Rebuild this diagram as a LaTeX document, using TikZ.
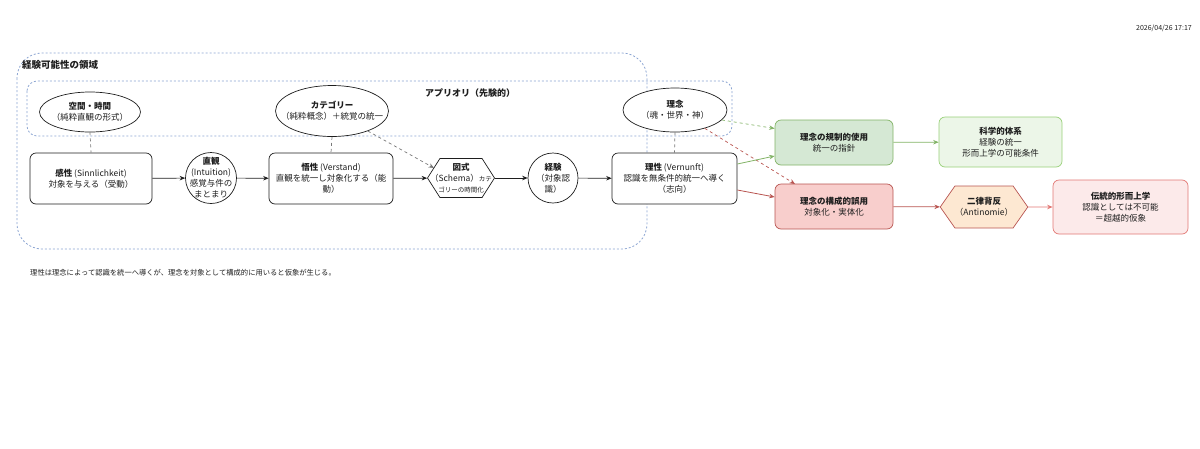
\documentclass[tikz,border=0pt]{standalone}
\usepackage{fontspec}
\setmainfont{Noto Sans CJK JP}
\usetikzlibrary{arrows.meta,calc,shapes.geometric,shapes.symbols}
\definecolor{txt}{RGB}{30,30,30}
\definecolor{cont}{RGB}{140,165,210}
\definecolor{conn}{RGB}{120,120,120}
\definecolor{gfill}{RGB}{213,232,212}
\definecolor{gline}{RGB}{130,179,102}
\definecolor{sfill}{RGB}{236,246,232}
\definecolor{sline}{RGB}{151,208,119}
\definecolor{rfill}{RGB}{248,206,204}
\definecolor{rline}{RGB}{184,84,80}
\definecolor{ofill}{RGB}{253,232,210}
\definecolor{tfill}{RGB}{252,234,234}
\definecolor{tline}{RGB}{226,120,116}
\begin{document}
\begin{tikzpicture}[x=1pt,y=-1pt,
  every node/.style={text=txt, font=\fontsize{8.5}{11}\selectfont, align=center, inner sep=0pt},
  box/.style={draw=txt, fill=white, rounded corners=6pt, line width=0.7pt},
  oval/.style={draw=txt, fill=white, ellipse, line width=0.7pt},
  hexa/.style={draw=txt, fill=white, signal, signal to=east and west, signal pointer angle=115, line width=0.7pt},
  container/.style={draw=cont, line width=0.8pt, dash pattern=on 2pt off 2pt},
  flow/.style={draw=txt, line width=0.7pt, -{Stealth[length=5.5pt,width=4.5pt]}},
  link/.style={draw=conn, line width=0.7pt, dash pattern=on 3pt off 3pt},
  dflow/.style={line width=0.7pt, dash pattern=on 3pt off 3pt, -{Stealth[length=5.5pt,width=4.5pt]}},
  cflow/.style={line width=0.8pt, -{Stealth[length=5.5pt,width=4.5pt]}}
]
\useasboundingbox (0,0) rectangle (1200,448);

% containers
\draw[container, rounded corners=25pt] (17,53) rectangle (647,249);
\draw[container, rounded corners=10pt] (27,81) rectangle (732,136);
\node[anchor=west, font=\fontsize{9.5}{11}\selectfont\bfseries] (t1) at (22,65) {経験可能性の領域};
\node[font=\fontsize{9}{11}\selectfont\bfseries] (t2) at (470,93) {アプリオリ（先験的）};

% a priori ellipses
\node[oval, minimum width=101pt, minimum height=40pt] (space) at (90,112) {};
\node (space-t) at (space) {\textbf{空間・時間}\\（純粋直観の形式）};
\node[oval, minimum width=113pt, minimum height=51pt] (cat) at (332,111) {};
\node (cat-t) at (cat) {\textbf{カテゴリー}\\（純粋概念）＋統覚の統一};
\node[oval, minimum width=104pt, minimum height=44pt] (idea) at (675,110) {};
\node (idea-t) at (idea) {\textbf{理念}\\（魂・世界・神）};

% main flow
\node[box, minimum width=122pt, minimum height=51pt] (sens) at (91,178.5) {\textbf{感性} (Sinnlichkeit)\\対象を与える（受動）};
\node[oval, minimum width=51pt, minimum height=51pt] (intu) at (211,178) {};
\node (intu-t) at (intu) {\textbf{直観}\\(Intuition)\\感覚与件の\\まとまり};
\node[box, minimum width=124pt, minimum height=51pt] (und) at (331,178.5) {\textbf{悟性} (Verstand)\\直観を統一し対象化する（能\\動）};
\node[hexa, minimum width=67pt, minimum height=39pt] (zus) at (461,178) {};
\node (zus-t) at (461,178) {\textbf{図式}\\（Schema）{\fontsize{6.5}{8}\selectfont カテ}\\{\fontsize{6.5}{8}\selectfont ゴリーの時間化}};
\node[oval, minimum width=50pt, minimum height=50pt] (exp) at (553,178) {};
\node (exp-t) at (exp) {\textbf{経験}\\（対象認\\識）};
\node[box, minimum width=125pt, minimum height=51pt] (rea) at (674.5,178.5) {\textbf{理性} (Vernunft)\\認識を無条件的統一へ導く\\（志向）};

% right side
\node[box, draw=gline, fill=gfill, minimum width=118pt, minimum height=45pt] (reg) at (834,142.5) {\textbf{理念の規制的使用}\\統一の指針};
\node[box, draw=sline, fill=sfill, minimum width=123pt, minimum height=50pt] (sci) at (1000.5,142) {\textbf{科学的体系}\\経験の統一\\形而上学の可能条件};
\node[box, draw=rline, fill=rfill, minimum width=118pt, minimum height=45pt] (mis) at (834,206.5) {\textbf{理念の構成的誤用}\\対象化・実体化};
\node[hexa, draw=rline, fill=ofill, minimum width=84pt, minimum height=42pt, signal pointer angle=110] (anti) at (984,207) {\textbf{二律背反}\\（Antinomie）};
\node[box, draw=tline, fill=tfill, minimum width=135pt, minimum height=54pt] (trad) at (1120.5,207) {\textbf{伝統的形而上学}\\認識としては不可能\\＝超越的仮象};

% dashed links
\draw[link] (space.south) -- (sens.north);
\draw[link] (cat.south) -- (und.north);
\draw[link] (idea.south) -- (rea.north);

% main arrows
\draw[flow] (sens) -- (intu);
\draw[flow] (intu) -- (und);
\draw[flow] (und) -- (zus);
\draw[flow] (zus) -- (exp);
\draw[flow] (exp) -- (rea);

\coordinate (zs-ul) at (434,168);
\draw[dflow, draw=conn] (cat) -- (zs-ul);

\coordinate (reg-in1) at ($(reg.west)+(0,-14)$);
\coordinate (mis-top) at (795,184);
\draw[dflow, draw=gline] (idea.-12) -- (reg-in1);
\draw[dflow, draw=rline] (idea) -- (mis-top);

\draw[cflow, draw=gline] ($(rea.east)+(0,-14.5)$) -- ($(reg.west)+(0,13.5)$);
\draw[cflow, draw=rline] ($(rea.east)+(0,11.5)$) -- ($(mis.west)+(0,-9.5)$);
\draw[cflow, draw=gline] (reg) -- (sci);
\draw[cflow, draw=rline] (mis) -- (anti);
\draw[cflow, draw=tline] (anti) -- (trad);

% notes
\node[anchor=west, font=\fontsize{7.3}{9}\selectfont] (note) at (30,273) {理性は理念によって認識を統一へ導くが、理念を対象として構成的に用いると仮象が生じる。};
\node[anchor=east, font=\fontsize{7}{9}\selectfont] (stamp) at (1192,28) {2026/04/26 17:17};
\end{tikzpicture}
\end{document}
